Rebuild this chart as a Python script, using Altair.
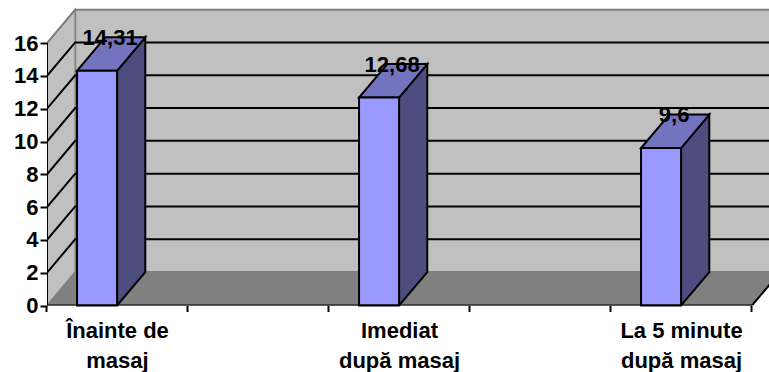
import altair as alt
import pandas as pd

# Chart values
categories = ["Înainte de\nmasaj", "Imediat\ndupă masaj", "La 5 minute\ndupă masaj"]
slots = [0, 2, 4]
values = [14.31, 12.68, 9.6]
value_labels = ["14,31", "12,68", "9,6"]
y_ticks = [0, 2, 4, 6, 8, 10, 12, 14, 16]
x_ticks = [0, 1, 2, 3, 4, 5]

# Oblique projection: how far the back of the box is shifted, in axis units
DX, DY = 0.2, 2.04
BAR_START, BAR_WIDTH = 0.213, 0.284
X_MAX, Y_MAX = 722 / 141, 301.5 / 16.4
FONT = "Liberation Sans"

x_scale = alt.Scale(domain=[0, X_MAX], nice=False, zero=False)
y_scale = alt.Scale(domain=[0, Y_MAX], nice=False, zero=False)
x_axis = alt.Axis(
    values=x_ticks, labels=False, domain=False, grid=False, zindex=1, tickOffset=-1,
    tickColor="#000000", tickWidth=2, tickSize=6, title=None)
y_axis = alt.Axis(
    values=y_ticks, format="d", domain=False, grid=False, zindex=1,
    tickColor="#000000", tickWidth=2, tickSize=7, labelPadding=2,
    labelFont=FONT, labelFontWeight="bold", labelFontSize=22, labelColor="#000000", title=None)
X = alt.X("x:Q", scale=x_scale, axis=x_axis)
Y = alt.Y("y:Q", scale=y_scale, axis=y_axis)
X2 = alt.X2("x2:Q")
Y2 = alt.Y2("y2:Q")


def side_face(df, **mark):
    # Face with two vertical edges
    return alt.Chart(df).mark_area(orient="vertical", clip=True, **mark).encode(
        x=X, y=Y, y2=Y2, detail="k:N")


def flat_face(df, **mark):
    # Face with two horizontal edges
    return alt.Chart(df).mark_area(orient="horizontal", clip=True, **mark).encode(
        y=Y, x=X, x2=X2, detail="k:N")


def segments(rows, color, width=2):
    df = pd.DataFrame(rows, columns=["k", "x", "y"])
    return alt.Chart(df).mark_line(color=color, strokeWidth=width, clip=True).encode(
        x=X, y=Y, detail="k:N", order="i:Q"
    ).transform_window(i="row_number()", groupby=["k"])


# Walls and floor
back_wall = alt.Chart(pd.DataFrame([{"x": DX, "x2": X_MAX + 1, "y": DY, "y2": 16 + DY}])).mark_rect(
    color="#C0C0C0", stroke="#808080", strokeWidth=2, clip=True
).encode(x=X, x2=X2, y=Y, y2=Y2)

left_wall = side_face(pd.DataFrame([
    {"k": "w", "x": 0, "y": 0, "y2": 16},
    {"k": "w", "x": DX, "y": DY, "y2": 16 + DY},
]), color="#C0C0C0", stroke="#808080", strokeWidth=1.5)

floor = flat_face(pd.DataFrame([
    {"k": "f", "y": 0, "x": 0, "x2": 5},
    {"k": "f", "y": DY, "x": DX, "x2": 5 + DX},
]), color="#808080", stroke="#808080", strokeWidth=1)

# Gridlines run along the back wall and down the left wall
grid_rows = []
for v in y_ticks[1:-1]:
    grid_rows += [(f"g{v}", 0, v), (f"g{v}", DX, v + DY), (f"g{v}", X_MAX + 1, v + DY)]
grid = segments(grid_rows, "#000000")
wall_top = segments([("t", 0, 16), ("t", DX, 16 + DY)], "#808080")
floor_edge = segments([("e", 5, 0), ("e", 5 + DX, DY)], "#000000")

# Bars: front, right side and top faces
front_rows, side_rows, top_rows, label_rows = [], [], [], []
for s, v, lab in zip(slots, values, value_labels):
    left = s + BAR_START
    right = left + BAR_WIDTH
    front_rows.append({"x": left, "x2": right, "y": 0, "y2": v})
    side_rows += [{"k": s, "x": right, "y": 0, "y2": v},
                  {"k": s, "x": right + DX, "y": DY, "y2": v + DY}]
    top_rows += [{"k": s, "y": v, "x": left, "x2": right},
                 {"k": s, "y": v + DY, "x": left + DX, "x2": right + DX}]
    label_rows.append({"x": (left + right + DX) / 2, "y": v + DY / 2, "t": lab})

edge = dict(stroke="#000000", strokeWidth=2)
fronts = alt.Chart(pd.DataFrame(front_rows)).mark_rect(color="#9999FF", **edge).encode(
    x=X, x2=X2, y=Y, y2=Y2)
sides = side_face(pd.DataFrame(side_rows), color="#4D4D80", **edge)
tops = flat_face(pd.DataFrame(top_rows), color="#7373BF", **edge)

bar_labels = alt.Chart(pd.DataFrame(label_rows)).mark_text(
    font=FONT, fontWeight="bold", fontSize=22, color="#000000",
    align="center", baseline="alphabetic", dx=-1, dy=-9
).encode(x=X, y=Y, text="t:N")

# Axis lines stop at the last tick, so they are drawn as their own segments
axis_lines = segments([("ax", 0, 16), ("ax", 0, 0), ("ax", 5, 0)], "#000000")

cat_df = pd.DataFrame({"x": [s + 0.5 for s in slots], "y": [0] * 3, "t": categories})
cat_labels = alt.Chart(cat_df).mark_text(
    font=FONT, fontWeight="bold", fontSize=22, color="#000000",
    align="center", baseline="alphabetic", lineBreak="\n", lineHeight=30, dy=32
).encode(x=X, y=Y, text="t:N")

chart = alt.layer(
    back_wall, left_wall, floor, grid, wall_top, floor_edge,
    sides, tops, fronts, axis_lines, cat_labels, bar_labels,
).properties(
    width=722, height=301.5,
    padding={"left": 47, "top": 4, "right": 0, "bottom": 66.5},
    autosize=alt.AutoSizeParams(type="none"),
    background="#FFFFFF",
).configure_view(stroke=None)

chart.save("out.html", embed_options={"renderer": "svg", "actions": False})
